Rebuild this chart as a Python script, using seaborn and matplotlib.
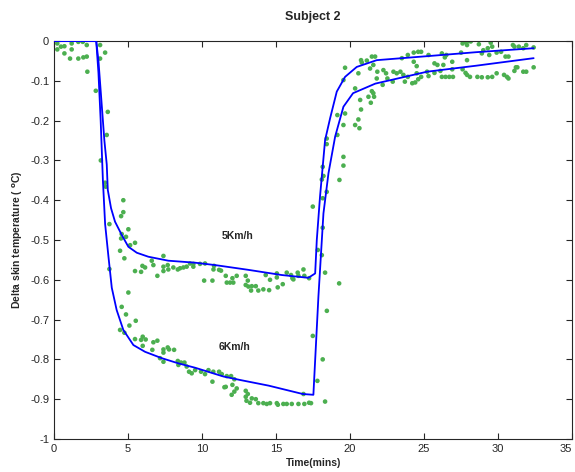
import numpy as np
import pandas as pd
import seaborn as sns
import matplotlib
matplotlib.use("Agg")
import matplotlib.pyplot as plt
from matplotlib.ticker import MultipleLocator, FuncFormatter

# measured data, 5 Km/h walk
t5 = [0.36, 0.47, 0.70, 1.08, 1.19, 1.64, 1.94, 2.21, 3.11, 3.45, 3.63, 3.56,
      4.68, 4.68, 4.53, 3.74, 5.02, 4.57, 4.86, 4.53, 5.47, 5.14, 4.46, 4.75,
      7.39, 6.60, 5.97, 6.15, 5.47, 5.88, 6.71, 6.98, 7.39, 7.39, 7.68, 7.72,
      8.06, 8.36, 8.51, 8.74, 8.96, 9.19, 9.41, 9.41, 9.86, 10.2, 10.14, 10.7,
      10.77, 10.81, 11.15, 11.28, 11.6, 11.67, 11.89, 12.05, 12.11, 12.34, 12.95,
      13.09, 12.95, 13.13, 13.31, 13.36, 13.63, 13.8, 14.14, 14.3, 14.59, 14.53,
      15.05, 15.05, 15.11, 15.45, 15.72, 16.01, 16.1, 16.17, 16.46, 16.51, 16.85,
      16.91, 17.23, 17.82, 18.09, 18.31, 19.26,
      17.48, 18.15, 18.09, 18.2, 18.15, 18.42, 18.42, 19.14, 19.66, 19.55, 19.66,
      20.56, 20.74, 20.79, 21.13, 21.35, 21.47, 21.69, 21.57, 21.84, 22.25, 22.93,
      23.5, 23.9, 24.3, 24.6, 24.8, 24.3, 24.5, 25.3, 25.7, 25.9, 26.2, 26.3,
      26.4, 26.5, 26.9, 27.5, 27.6, 27.8, 27.9, 28.0, 28.15, 27.9, 28.7, 28.9,
      29.0, 29.3, 29.5, 29.6, 29.4, 29.9, 30.2, 30.5, 30.7, 31.0, 31.1, 31.4,
      31.7, 31.9, 32.4]
y5 = [0.01, -0.014, -0.013, 0.003, -0.006, -0.002, -0.002, -0.01, -0.01, -0.029, -0.178, -0.236,
      -0.40, -0.43, -0.44, -0.46, -0.473, -0.485, -0.492, -0.496, -0.507, -0.513, -0.527, -0.546,
      -0.54, -0.552, -0.565, -0.569, -0.578, -0.58, -0.563, -0.59, -0.567, -0.578, -0.563, -0.574,
      -0.569, -0.574, -0.571, -0.569, -0.567, -0.559, -0.56, -0.567, -0.56, -0.559, -0.602, -0.602,
      -0.574, -0.565, -0.575, -0.577, -0.59, -0.607, -0.607, -0.596, -0.607, -0.59, -0.59,
      -0.602, -0.613, -0.617, -0.627, -0.616, -0.616, -0.627, -0.624, -0.588, -0.60, -0.626,
      -0.584, -0.594, -0.619, -0.611, -0.582, -0.588, -0.596, -0.599, -0.582, -0.59, -0.574,
      -0.59, -0.596, -0.525, -0.538, -0.582, -0.609,
      -0.416, -0.395, -0.348, -0.339, -0.316, -0.259, -0.245, -0.186, -0.182, -0.098, -0.067,
      -0.081, -0.048, -0.054, -0.049, -0.069, -0.039, -0.039, -0.06, -0.077, -0.073, -0.077,
      -0.043, -0.035, -0.029, -0.027, -0.027, -0.052, -0.063, -0.035, -0.056, -0.06, -0.031, -0.06,
      -0.041, -0.035, -0.052, -0.029, -0.006, -0.002, -0.01, 0.0, -0.001, -0.048, -0.008, -0.031,
      -0.023, -0.018, -0.004, -0.014, -0.035, -0.029, -0.027, -0.039, -0.039, -0.01, -0.014, -0.014,
      -0.018, -0.01, -0.016]

# measured data, 6 Km/h walk
t6 = [0.22, 0.22, 0.70, 1.19, 1.08, 1.64, 1.98, 2.21, 2.25, 3.11, 2.82,
      3.16, 3.45, 3.49, 3.74, 5.02, 4.57, 4.86, 5.09, 5.52, 4.46, 4.75, 5.47,
      5.88, 5.99, 6.19, 5.99, 6.71, 6.98, 6.64, 7.39, 7.39, 7.68, 7.77, 8.11,
      7.16, 7.39, 8.36, 8.58, 8.4, 8.81, 8.96, 9.12, 9.3, 9.53, 9.93, 10.2,
      10.43, 10.76, 10.7, 11.15, 11.51, 11.33, 11.67, 11.96, 12.18, 11.6, 12.05,
      12.34, 12.18, 12.0, 12.95, 13.09, 12.95, 13.0, 13.24, 13.36, 13.63, 13.8,
      14.14, 14.37, 14.59, 15.05, 15.12, 15.49, 15.72, 16.06, 16.51, 16.91, 16.85,
      17.23, 17.36,
      18.15, 18.42, 18.43, 17.48, 18.15, 17.79, 18.31, 19.28, 19.55, 19.55, 19.14,
      19.55, 20.34, 20.34, 20.56, 20.63, 20.74, 20.68, 21.24, 21.4, 21.47, 21.57,
      21.62, 21.8, 22.2, 22.43, 22.52, 22.88, 23.15,
      23.4, 23.6, 23.9, 23.7, 24.2, 24.4, 24.6, 24.5, 24.8, 25.2, 25.3, 25.7,
      26.1, 26.2, 26.45, 26.7, 26.9, 26.95, 27.6, 27.8, 27.9, 28.1, 28.6, 28.9,
      29.3, 29.6, 29.9, 30.4, 30.6, 30.7, 31.1, 31.2, 31.3, 31.7, 31.9, 32.4]
y6 = [-0.006, -0.021, -0.031, -0.021, -0.044, -0.044, -0.041, -0.039, -0.077, -0.044, -0.125,
      -0.30, -0.356, -0.366, -0.573, -0.632, -0.668, -0.687, -0.715, -0.703, -0.726, -0.733, -0.749,
      -0.751, -0.743, -0.75, -0.766, -0.757, -0.753, -0.776, -0.775, -0.783, -0.77, -0.775, -0.776,
      -0.797, -0.806, -0.804, -0.808, -0.814, -0.808, -0.818, -0.831, -0.835, -0.827, -0.831, -0.837,
      -0.827, -0.831, -0.856, -0.831, -0.87, -0.837, -0.842, -0.842, -0.85, -0.869, -0.864,
      -0.873, -0.881, -0.889, -0.879, -0.887, -0.894, -0.904, -0.909, -0.898, -0.90, -0.91,
      -0.91, -0.912, -0.91, -0.91, -0.914, -0.912, -0.912, -0.912, -0.912, -0.912, -0.887,
      -0.909, -0.91,
      -0.469, -0.379, -0.678, -0.741, -0.80, -0.854, -0.906, -0.349, -0.313, -0.291, -0.236,
      -0.211, -0.119, -0.211, -0.197, -0.219, -0.172, -0.148, -0.14, -0.155, -0.126, -0.131,
      -0.14, -0.094, -0.11, -0.081, -0.094, -0.102, -0.081,
      -0.077, -0.085, -0.09, -0.102, -0.106, -0.104, -0.096, -0.081, -0.09, -0.077, -0.088, -0.08,
      -0.075, -0.09, -0.09, -0.09, -0.071, -0.09, -0.071, -0.08, -0.085, -0.09, -0.09, -0.091,
      -0.091, -0.09, -0.081, -0.085, -0.09, -0.094, -0.075, -0.066, -0.066, -0.077, -0.077, -0.066]

# model curves
fit5_t = [0, 2.85, 3.0, 3.2, 3.4, 3.56, 3.63, 3.85, 4.12, 4.57, 5.02, 5.59, 6.37, 7.72,
          9.53, 10.88, 13.13, 15.38, 17.18, 17.64, 17.75, 17.97, 18.31, 18.65, 19.1,
          19.66, 20.45, 21.8, 25.2, 28.5, 32.4]
fit5_y = [0, 0, -0.05, -0.15, -0.25, -0.31, -0.374, -0.42, -0.454, -0.487, -0.517, -0.532,
          -0.542, -0.552, -0.557, -0.563, -0.575, -0.588, -0.595, -0.584, -0.5, -0.39, -0.249,
          -0.194, -0.127, -0.09, -0.065, -0.048, -0.038, -0.028, -0.018]
fit6_t = [0, 2.85, 3.0, 3.15, 3.3, 3.45, 3.67, 3.9, 4.23, 4.68, 5.36, 6.15, 7.28, 8.4,
          9.53, 11.44, 12.6, 14.5, 16.8, 17.52, 17.86, 18.2, 18.54, 18.99, 19.55, 20.2,
          21.7, 25.2, 28.5, 32.4]
fit6_y = [0, 0, -0.08, -0.2, -0.35, -0.46, -0.54, -0.62, -0.676, -0.726, -0.764, -0.781,
          -0.797, -0.81, -0.821, -0.843, -0.852, -0.866, -0.887, -0.889, -0.642, -0.433,
          -0.332, -0.24, -0.165, -0.131, -0.107, -0.077, -0.062, -0.043]

speed_labels = ["5Km/h", "6Km/h"]
x_ticks = [0, 5, 10, 15, 20, 25, 30, 35]

sns.set_style("ticks")
plt.rcParams['font.family'] = ['Liberation Sans', 'DejaVu Sans']
plt.rcParams['axes.unicode_minus'] = False

pts = pd.concat([pd.DataFrame({"t": t5, "y": y5}), pd.DataFrame({"t": t6, "y": y6})])

fig = plt.figure(figsize=(5.75, 4.72), dpi=100)
ax = fig.add_axes([0.094, 0.070, 0.901, 0.843])

sns.scatterplot(data=pts, x="t", y="y", ax=ax, color="#4caf50", s=11,
                edgecolor="none", linewidth=0, zorder=2)
sns.lineplot(x=fit5_t, y=fit5_y, ax=ax, sort=False, estimator=None, color="#0000ff", lw=1.3, zorder=3)
sns.lineplot(x=fit6_t, y=fit6_y, ax=ax, sort=False, estimator=None, color="#0000ff", lw=1.3, zorder=3)

ax.text(12.4, -0.49, speed_labels[0], ha="center", va="center", fontsize=7.5, fontweight="bold")
ax.text(12.2, -0.77, speed_labels[1], ha="center", va="center", fontsize=7.5, fontweight="bold")

ax.set_xlim(0, 35)
ax.set_ylim(-1, 0)
ax.set_xticks(x_ticks, [str(v) for v in x_ticks])
ax.yaxis.set_major_locator(MultipleLocator(0.1))
ax.yaxis.set_major_formatter(FuncFormatter(lambda v, p: "%g" % round(v, 2)))
ax.tick_params(direction="in", top=True, right=True, labelsize=8, length=4, width=0.8)
for s in ax.spines.values():
    s.set_linewidth(0.8)
    s.set_visible(True)

# keep the last x label inside the figure
ax.xaxis.get_major_ticks()[-1].label1.set_horizontalalignment("right")

ax.set_xlabel("Time(mins)", fontsize=7.5, fontweight="bold", labelpad=3)
ax.set_ylabel("Delta skin temperature ( $^{\\mathbf{o}}$C)", fontsize=7.5, fontweight="bold", labelpad=4)
ax.set_title("Subject 2", fontsize=9, fontweight="bold", pad=15)

fig.savefig("out.png", dpi=100)
